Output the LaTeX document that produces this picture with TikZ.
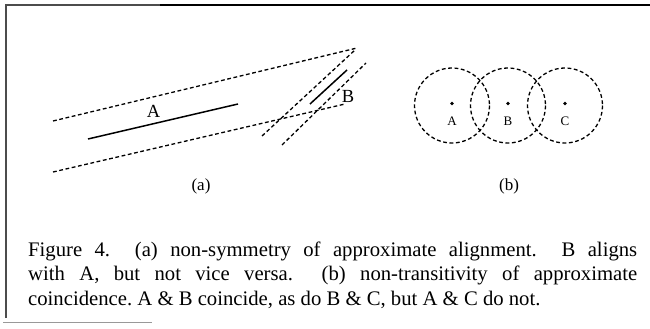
\documentclass[tikz,border=0pt]{standalone}
\usepackage{fontspec}
\setmainfont{Liberation Serif}
\begin{document}
\begin{tikzpicture}[x=1pt,y=-1pt,
  dsh/.style={line width=1.3pt,dash pattern=on 3.8pt off 2.6pt},
  seg/.style={line width=1.5pt},
  lbl/.style={inner sep=0pt,font=\fontsize{18.5}{20}\selectfont},
  small/.style={inner sep=0pt,font=\fontsize{13}{14}\selectfont},
  sub/.style={inner sep=0pt,font=\fontsize{17}{19}\selectfont},
  captext/.style={inner sep=0pt,anchor=base west,font=\fontsize{20.7}{24}\selectfont},
  pt/.style={circle,fill=black,inner sep=0pt,minimum size=3.8pt}]
\useasboundingbox (0,0) rectangle (650,329);
% frame
\coordinate (f1) at (6,318);
\coordinate (f2) at (6,5);
\coordinate (f3) at (160,5);
\coordinate (f5) at (650,5);
\coordinate (g1) at (3,322);
\coordinate (g2) at (152,322);
\draw[line width=1.4pt] (f2) -- (f5);
\draw[line width=1.4pt,black!70] (f1) -- (f2) -- (f3);
\draw[line width=0.8pt,black!40] (g1) -- (g2);
% (a)
\coordinate (u1) at (53,121);
\coordinate (u2) at (357,48);
\coordinate (l1) at (53,172);
\coordinate (l2) at (345,104);
\coordinate (a1) at (88,139);
\coordinate (a2) at (238,104);
\coordinate (d1) at (262,136);
\coordinate (d2) at (355,50);
\coordinate (e1) at (282,145);
\coordinate (e2) at (366,63);
\coordinate (b1) at (310,104);
\coordinate (b2) at (347,70);
\draw[dsh] (u1) -- (u2);
\draw[dsh] (l1) -- (l2);
\draw[dsh] (d1) -- (d2);
\draw[dsh] (e1) -- (e2);
\draw[seg] (a1) -- (a2);
\draw[seg] (b1) -- (b2);
\node[lbl] (la) at (153.5,111) {A};
\node[lbl] (lb) at (348,96) {B};
\node[sub] (suba) at (201,186) {(a)};
% (b)
\node[pt] (pa) at (452,103.5) {};
\node[pt] (pb) at (508,103.5) {};
\node[pt] (pc) at (565,103.5) {};
\draw[dsh] (452,105.5) circle (37.5);
\draw[dsh] (508,105.5) circle (37.5);
\draw[dsh] (565,105.5) circle (37.5);
\node[small] (ta) at (452,121.5) {A};
\node[small] (tb) at (508,121.5) {B};
\node[small] (tc) at (565,121.5) {C};
\node[sub] (subb) at (509,186) {(b)};
% caption
\node[captext] (c1) at (28,256.5) {\makebox[609pt][s]{Figure 4.\ \ (a) non-symmetry of approximate alignment.\ \ B aligns}};
\node[captext] (c2) at (28,280.7) {\makebox[609pt][s]{with A, but not vice versa.\ \ (b) non-transitivity of approximate}};
\node[captext] (c3) at (28,305) {coincidence.\ A \& B coincide, as do B \& C, but A \& C do not.};
\end{tikzpicture}
\end{document}
